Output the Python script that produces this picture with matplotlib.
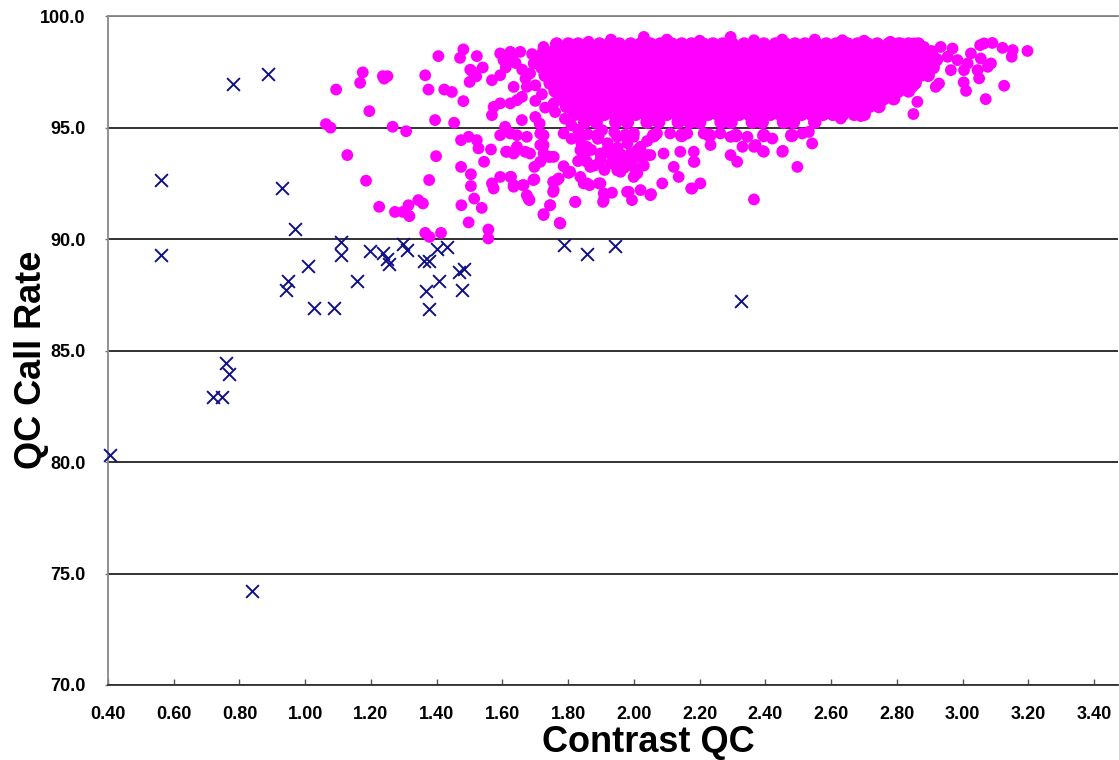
import matplotlib
matplotlib.use("Agg")
import matplotlib.pyplot as plt

plt.rcParams['font.family'] = ['Liberation Sans', 'DejaVu Sans']

# failed samples (navy crosses)
fail_x = [0.781, 0.887, 0.560, 0.929, 0.970, 1.108, 0.560, 1.108, 1.197, 1.238,
          1.248, 1.256, 1.296, 1.311, 1.360, 1.375, 1.400, 1.430, 1.009, 0.948,
          0.940, 1.027, 1.087, 1.157, 1.407, 1.367, 1.378, 1.469, 1.483, 1.476,
          0.758, 0.767, 0.718, 0.746, 0.407, 0.839, 1.788, 1.858, 1.943, 2.327]
fail_y = [96.95, 97.40, 92.63, 92.30, 90.46, 89.85, 89.31, 89.28, 89.45, 89.39,
          89.09, 88.87, 89.78, 89.51, 89.00, 89.02, 89.54, 89.64, 88.79, 88.13,
          87.74, 86.89, 86.89, 88.12, 88.12, 87.68, 86.87, 88.53, 88.64, 87.71,
          84.43, 83.95, 82.93, 82.93, 80.31, 74.22, 89.73, 89.33, 89.69, 87.22]

# passing samples, dense body of the cloud read row by row (call rate, contrast values)
core_rows = [
    (98.75, [1.765, 1.80, 1.83, 1.86, 1.895, 1.925, 1.955, 1.99, 2.02, 2.05, 2.08, 2.115,
             2.145, 2.175, 2.21, 2.24, 2.27, 2.30, 2.335, 2.365, 2.395, 2.43, 2.46, 2.49,
             2.52, 2.555, 2.585, 2.615, 2.65, 2.68, 2.71, 2.74, 2.775, 2.805, 2.835, 2.865]),
    (98.40, [1.725, 1.755, 1.785, 1.815, 1.845, 1.88, 1.91, 1.94, 1.97, 2.005, 2.035, 2.065,
             2.10, 2.13, 2.16, 2.19, 2.225, 2.255, 2.285, 2.315, 2.35, 2.38, 2.41, 2.445,
             2.475, 2.505, 2.535, 2.57, 2.60, 2.63, 2.665, 2.695, 2.725, 2.76, 2.79, 2.82,
             2.85, 2.88, 2.905]),
    (98.05, [1.705, 1.74, 1.77, 1.80, 1.83, 1.86, 1.895, 1.925, 1.955, 1.985, 2.02, 2.05,
             2.08, 2.11, 2.145, 2.175, 2.205, 2.24, 2.27, 2.30, 2.33, 2.365, 2.395, 2.425,
             2.46, 2.49, 2.52, 2.55, 2.585, 2.615, 2.645, 2.68, 2.71, 2.74, 2.77, 2.805,
             2.835, 2.865, 2.895, 2.92]),
    (97.70, [1.72, 1.755, 1.785, 1.815, 1.845, 1.875, 1.91, 1.94, 1.97, 2.00, 2.035, 2.065,
             2.095, 2.13, 2.16, 2.19, 2.22, 2.255, 2.285, 2.315, 2.35, 2.38, 2.41, 2.44,
             2.475, 2.505, 2.535, 2.565, 2.60, 2.63, 2.66, 2.695, 2.725, 2.755, 2.785, 2.82,
             2.85, 2.88, 2.91]),
    (97.35, [1.73, 1.765, 1.795, 1.825, 1.86, 1.89, 1.92, 1.955, 1.985, 2.015, 2.05, 2.08,
             2.11, 2.145, 2.175, 2.205, 2.24, 2.27, 2.30, 2.335, 2.365, 2.395, 2.43, 2.46,
             2.49, 2.525, 2.555, 2.585, 2.62, 2.65, 2.68, 2.715, 2.745, 2.775, 2.81, 2.84,
             2.87, 2.895]),
    (97.00, [1.745, 1.78, 1.81, 1.84, 1.875, 1.905, 1.935, 1.97, 2.00, 2.03, 2.065, 2.095,
             2.125, 2.16, 2.19, 2.22, 2.255, 2.285, 2.315, 2.35, 2.38, 2.41, 2.445, 2.475,
             2.505, 2.54, 2.57, 2.60, 2.635, 2.665, 2.695, 2.73, 2.76, 2.79, 2.825, 2.855]),
    (96.65, [1.76, 1.79, 1.825, 1.855, 1.885, 1.92, 1.95, 1.98, 2.015, 2.045, 2.075, 2.11,
             2.14, 2.17, 2.205, 2.235, 2.265, 2.30, 2.33, 2.36, 2.395, 2.425, 2.455, 2.49,
             2.52, 2.55, 2.585, 2.615, 2.645, 2.68, 2.71, 2.74, 2.775, 2.805, 2.835]),
    (96.30, [1.775, 1.81, 1.84, 1.87, 1.905, 1.935, 1.965, 2.00, 2.03, 2.06, 2.095, 2.125,
             2.155, 2.19, 2.22, 2.25, 2.285, 2.315, 2.345, 2.38, 2.41, 2.44, 2.475, 2.505,
             2.535, 2.57, 2.60, 2.63, 2.665, 2.695, 2.725, 2.76, 2.79]),
    (95.95, [1.795, 1.825, 1.855, 1.89, 1.92, 1.95, 1.985, 2.015, 2.045, 2.08, 2.11, 2.14,
             2.175, 2.205, 2.235, 2.27, 2.30, 2.33, 2.365, 2.395, 2.425, 2.46, 2.49, 2.52,
             2.555, 2.585, 2.615, 2.65, 2.68, 2.715, 2.745]),
    (95.60, [1.82, 1.85, 1.88, 1.91, 1.94, 1.97, 2.005, 2.035, 2.065, 2.10, 2.13, 2.16,
             2.195, 2.225, 2.255, 2.29, 2.32, 2.35, 2.385, 2.415, 2.445, 2.48, 2.51, 2.54,
             2.575, 2.605, 2.635, 2.67, 2.70]),
    (95.25, [1.85, 1.885, 1.945, 1.98, 2.04, 2.075, 2.135, 2.17, 2.20, 2.265, 2.295,
             2.36, 2.39, 2.455, 2.485, 2.55]),
    (94.65, [1.89, 1.975, 2.06, 2.145, 2.23, 2.31, 2.395, 2.48]),
]

# passing samples, scattered points around the body
edge_x = [1.094, 1.175, 1.167, 1.236, 1.250, 1.240, 1.195, 1.063, 1.077, 1.266,
          1.307, 1.128, 1.185, 1.225, 1.273, 1.297, 1.314, 1.344, 1.358, 1.317,
          1.365, 1.405, 1.375, 1.423, 1.446, 1.481, 1.395, 1.453, 1.398, 1.377,
          1.365, 1.378, 1.413, 1.481, 1.471, 1.522, 1.502, 1.510, 1.540, 1.500,
          1.520, 1.474, 1.497, 1.522, 1.527, 1.565, 1.544, 1.474, 1.504, 1.504,
          1.514, 1.537, 1.475, 1.497, 1.557, 1.557, 1.568, 1.573, 1.593, 1.626,
          1.634, 1.662, 1.674, 1.682, 1.697, 1.697, 1.754, 1.754, 1.766, 1.745,
          1.725, 1.774, 1.821, 1.786, 1.801, 1.847, 1.865, 1.893, 1.908, 1.933,
          1.906, 1.984, 1.994,
          1.593, 1.608, 1.624, 1.644, 1.611, 1.634, 1.644, 1.669, 1.684, 1.674,
          1.659, 1.700, 1.713, 1.725, 1.715, 1.725, 1.740, 1.756, 1.715, 1.786,
          1.568, 1.573, 1.593, 1.568, 1.593, 1.603, 1.593, 1.624, 1.654, 1.634,
          1.644, 1.624, 1.659, 1.725, 1.715, 1.695, 1.684, 1.674, 1.786, 1.816,
          1.862, 1.756, 1.776, 1.756, 1.796, 1.827, 1.836, 1.857, 1.847, 1.867,
          1.898, 1.918, 1.938, 1.959, 1.989, 1.999, 1.959, 1.949, 1.903, 1.877,
          1.614, 1.644, 1.694, 1.624, 1.634, 1.664, 1.679, 1.725, 1.745, 1.756,
          1.771, 1.776, 1.806, 1.822, 1.837, 1.857, 1.898, 1.908, 1.979, 2.020,
          2.050, 2.086, 2.121, 2.136, 2.177, 2.202, 2.182, 2.182, 2.294, 2.314,
          2.365, 2.421, 2.451, 2.497, 2.365, 2.395, 2.040, 2.090, 1.949, 1.999,
          1.928, 1.898, 1.857, 1.837, 1.725, 1.745, 1.715,
          2.030, 2.294, 2.365, 2.451, 2.634, 2.453, 2.512, 2.542, 2.532, 2.330,
          2.370, 2.392, 2.233, 2.184, 2.174, 2.141, 2.050, 2.052, 2.020, 1.999,
          1.979, 2.010, 2.294, 2.345, 2.070, 2.110, 2.162, 2.212, 2.263,
          3.065, 3.090, 3.053, 3.121, 3.152, 3.149, 3.197, 3.086, 3.076, 3.126,
          3.070, 3.010, 3.003, 3.050, 3.045, 3.055, 3.025, 3.015, 3.004, 2.964,
          2.969, 2.933, 2.928, 2.918, 2.862, 2.850, 2.690, 2.629, 2.781, 2.730,
          2.847, 2.852, 2.811, 2.832, 2.882, 2.898, 2.893, 2.954, 2.984,
          1.930, 2.100, 2.200, 2.550, 2.700, 2.780,
          1.610, 1.640, 1.660, 1.690, 1.630, 1.670, 1.700, 1.720, 1.700, 1.730,
          1.760, 1.790, 1.810,
          1.830, 1.860, 1.890, 1.920, 1.950, 1.980, 2.010, 2.040, 1.840, 1.870,
          1.900, 1.930, 1.960, 1.990, 2.030, 1.880, 1.910, 1.850, 1.940, 2.000,
          2.060, 1.970, 2.020, 1.810, 1.830]
edge_y = [96.71, 97.48, 97.01, 97.31, 97.31, 97.20, 95.74, 95.16, 95.00, 95.04,
          94.84, 93.77, 92.62, 91.45, 91.22, 91.22, 91.52, 91.75, 91.60, 91.03,
          97.35, 98.21, 96.71, 96.71, 96.60, 96.19, 95.34, 95.22, 93.72, 92.65,
          90.28, 90.10, 90.28, 98.51, 98.13, 98.21, 97.60, 97.50, 97.70, 97.05,
          97.30, 94.44, 94.59, 94.44, 94.07, 94.02, 93.47, 93.24, 92.91, 92.38,
          91.82, 91.40, 91.52, 90.75, 90.43, 90.03, 92.50, 92.27, 92.79, 92.79,
          92.42, 92.42, 91.97, 91.75, 92.68, 93.24, 92.57, 92.12, 92.65, 91.52,
          91.12, 90.73, 91.67, 93.27, 92.97, 92.50, 92.42, 92.50, 92.05, 92.08,
          91.67, 92.12, 91.75,
          94.66, 95.04, 94.74, 94.66, 93.92, 93.84, 94.14, 93.92, 93.84, 94.59,
          95.34, 95.48, 95.19, 94.66, 94.22, 93.84, 93.69, 93.69, 93.47, 94.74,
          95.56, 95.93, 96.09, 97.13, 97.35, 98.03, 98.33, 98.40, 98.40, 96.83,
          96.23, 96.09, 96.38, 98.62, 98.17, 97.88, 97.43, 96.83, 98.47, 98.70,
          98.85, 97.58, 96.83, 96.09, 96.09, 96.38, 94.59, 94.14, 93.69, 93.24,
          93.84, 93.99, 93.69, 93.54, 93.84, 93.24, 93.02, 94.59, 94.89, 95.34,
          93.92, 93.99, 92.65, 92.79, 92.35, 92.42, 91.82, 91.08, 91.52, 92.20,
          92.72, 90.70, 93.02, 91.67, 92.79, 92.50, 92.50, 91.75, 92.12, 92.20,
          91.97, 92.50, 93.24, 92.79, 92.27, 92.50, 93.92, 93.47, 93.77, 93.47,
          91.78, 94.51, 93.92, 93.24, 94.14, 93.92, 93.77, 93.84, 93.09, 92.79,
          93.84, 93.54, 93.47, 93.99, 94.22, 93.69, 94.74,
          99.07, 99.07, 98.92, 98.95, 98.92, 93.96, 94.74, 94.29, 94.81, 94.14,
          94.22, 93.95, 94.22, 93.47, 92.27, 93.92, 93.77, 92.02, 94.14, 94.59,
          93.54, 92.95, 94.59, 94.59, 94.74, 94.74, 94.74, 94.74, 94.74,
          98.78, 98.80, 98.70, 98.58, 98.48, 98.18, 98.44, 97.88, 97.73, 96.88,
          96.28, 96.65, 97.03, 97.21, 97.58, 98.10, 98.33, 97.88, 97.58, 97.58,
          98.55, 98.62, 96.98, 96.83, 96.16, 95.61, 95.52, 95.41, 96.53, 96.09,
          96.83, 98.78, 98.78, 98.18, 98.62, 98.18, 97.58, 98.18, 98.03,
          98.95, 98.95, 98.90, 98.95, 98.90, 98.85,
          97.70, 97.90, 97.60, 98.30, 98.10, 97.20, 96.90, 96.50, 96.20, 95.90,
          95.70, 95.40, 95.10,
          94.90, 94.70, 94.50, 94.30, 94.10, 94.30, 94.00, 94.40, 94.30, 94.00,
          93.70, 93.40, 93.80, 93.50, 93.30, 93.30, 93.10, 93.80, 94.80, 94.75,
          94.60, 93.20, 93.65, 94.50, 93.50]

core_x = []
core_y = []
for level, xs in core_rows:
    core_x += xs
    core_y += [level] * len(xs)

x_ticks = [0.40, 0.60, 0.80, 1.00, 1.20, 1.40, 1.60, 1.80, 2.00, 2.20,
           2.40, 2.60, 2.80, 3.00, 3.20, 3.40]
y_ticks = [70, 75, 80, 85, 90, 95, 100]

fig = plt.figure(figsize=(11.19, 7.60), dpi=100)
ax = fig.add_axes([0.0965, 0.0987, 0.9025, 0.880])

magenta = '#ff00ff'
ax.scatter(core_x, core_y, s=95, c=magenta, edgecolors='none', zorder=2)
ax.scatter(edge_x, edge_y, s=72, c=magenta, edgecolors='none', zorder=2)
ax.scatter(fail_x, fail_y, s=85, marker='x', c='#101088', linewidths=1.4,
           zorder=3, clip_on=False)

ax.set_xlim(0.40, 3.472)
ax.set_ylim(70, 100)
ax.set_xticks(x_ticks)
ax.set_xticklabels(['%.2f' % v for v in x_ticks], fontsize=13, fontweight='bold')
ax.set_yticks(y_ticks)
ax.set_yticklabels(['%.1f' % v for v in y_ticks], fontsize=13, fontweight='bold')

ax.set_axisbelow(True)
ax.yaxis.grid(True, color='#222222', linewidth=1.3)
ax.tick_params(axis='x', direction='in', length=4, width=1, color='#555555', pad=15)
ax.tick_params(axis='y', direction='out', length=2, width=1, color='#777777', pad=14)

for side in ['left', 'top']:
    ax.spines[side].set_color('#888888')
    ax.spines[side].set_linewidth(1.3)
ax.spines['bottom'].set_color('#333333')
ax.spines['bottom'].set_linewidth(1.3)
ax.spines['right'].set_visible(False)

ax.set_xlabel('Contrast QC', fontsize=26, fontweight='bold')
ax.set_ylabel('QC Call Rate', fontsize=26, fontweight='bold')
ax.xaxis.set_label_coords(0.535, -0.060)
ax.yaxis.set_label_coords(-0.058, 0.486)

fig.savefig('out.png', dpi=100)
